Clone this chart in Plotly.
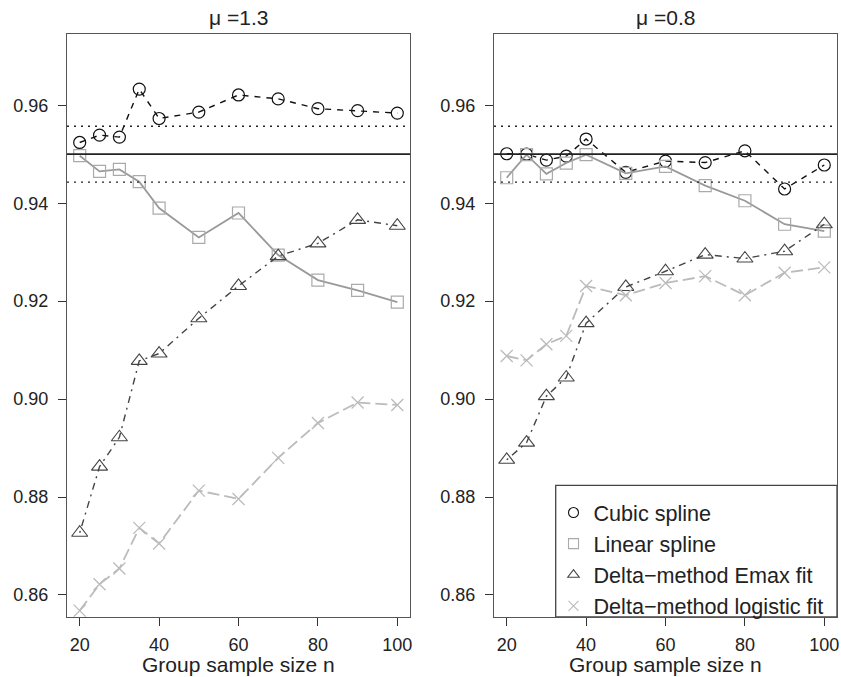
import plotly.graph_objects as go

# ---------------- data ----------------
n = [20, 25, 30, 35, 40, 50, 60, 70, 80, 90, 100]

cubic_13 = [0.9524, 0.9539, 0.9535, 0.9633, 0.9573, 0.9586, 0.9621, 0.9613, 0.9593, 0.9589, 0.9584]
linear_13 = [0.9497, 0.9465, 0.9469, 0.9444, 0.9390, 0.9330, 0.9380, 0.9294, 0.9243, 0.9222, 0.9198]
emax_13 = [0.8727, 0.8862, 0.8922, 0.9078, 0.9093, 0.9165, 0.9231, 0.9292, 0.9318, 0.9366, 0.9354]
logit_13 = [0.8568, 0.8622, 0.8654, 0.8737, 0.8705, 0.8813, 0.8796, 0.8880, 0.8951, 0.8993, 0.8988]

cubic_08 = [0.9501, 0.9500, 0.9488, 0.9496, 0.9531, 0.9463, 0.9486, 0.9483, 0.9507, 0.9429, 0.9478]
linear_08 = [0.9452, 0.9499, 0.9460, 0.9482, 0.9499, 0.9461, 0.9475, 0.9436, 0.9405, 0.9357, 0.9343]
emax_08 = [0.8876, 0.8911, 0.9006, 0.9044, 0.9155, 0.9229, 0.9261, 0.9295, 0.9287, 0.9302, 0.9357]
logit_08 = [0.9088, 0.9079, 0.9112, 0.9129, 0.9231, 0.9212, 0.9237, 0.9251, 0.9212, 0.9258, 0.9269]

nominal = 0.95
ci_lo, ci_hi = 0.9443, 0.9557

panel_titles = ["\u03bc =1.3", "\u03bc =0.8"]
series_names = ["Cubic spline", "Linear spline", "Delta\u2212method Emax fit", "Delta\u2212method logistic fit"]
x_ticks = [20, 40, 60, 80, 100]
y_ticks = [0.86, 0.88, 0.90, 0.92, 0.94, 0.96]
x_label = "Group sample size n"

# ---------------- styles ----------------
W, H = 841, 677
FONT = "Liberation Sans, Arial, Helvetica, sans-serif"
styles = [
    dict(symbol="circle-open", size=12, mcolor="#111111", lcolor="#111111", dash="6px,6px", lw=1.4, mlw=1.2),
    dict(symbol="square-open", size=12, mcolor="#aaaaaa", lcolor="#999999", dash="solid", lw=1.8, mlw=1.2),
    dict(symbol="triangle-up-open", size=14, mcolor="#444444", lcolor="#444444", dash="2px,5px,7px,5px", lw=1.4, mlw=1.1),
    dict(symbol="x-thin-open", size=12, mcolor="#bbbbbb", lcolor="#bbbbbb", dash="12px,5px", lw=1.8, mlw=1.3),
]

fig = go.Figure()

panels = [
    ("x", "y", [cubic_13, linear_13, emax_13, logit_13]),
    ("x2", "y2", [cubic_08, linear_08, emax_08, logit_08]),
]

for xa, ya, series in panels:
    for vals, st, name in zip(series, styles, series_names):
        fig.add_trace(go.Scatter(
            x=n, y=vals, xaxis=xa, yaxis=ya, mode="lines+markers",
            name=name, showlegend=False,
            line=dict(color=st["lcolor"], width=st["lw"], dash=st["dash"]),
            marker=dict(symbol=st["symbol"], size=st["size"], color=st["mcolor"],
                        line=dict(color=st["mcolor"], width=st["mlw"])),
        ))

# legend-only entries (markers only, as in the reference)
for st, name in zip(styles, series_names):
    fig.add_trace(go.Scatter(
        x=[None], y=[None], xaxis="x2", yaxis="y2", mode="markers", name=name,
        marker=dict(symbol=st["symbol"], size=10, color=st["mcolor"],
                    line=dict(color=st["mcolor"], width=1.1)),
    ))

xdom = [[67 / W, 410 / W], [494 / W, 837 / W]]
ydom = [1 - 617 / H, 1 - 34 / H]

axis_common = dict(
    showgrid=False, zeroline=False, showline=True, mirror=True,
    linecolor="#555555", linewidth=1.2, ticks="outside", ticklen=8,
    tickwidth=1, tickcolor="#333333",
    tickfont=dict(family=FONT, size=18, color="#222222"),
    automargin=False,
)

layout = dict(
    width=W, height=H, margin=dict(l=0, r=0, t=0, b=0),
    paper_bgcolor="white", plot_bgcolor="white",
    font=dict(family=FONT, color="#222222"),
    showlegend=True,
    legend=dict(x=553.5 / W, xanchor="left", y=1 - 492 / H, yanchor="top",
                bgcolor="rgba(0,0,0,0)", borderwidth=0,
                font=dict(family=FONT, size=21.6, color="#222222"),
                itemsizing="trace", tracegroupgap=0),
)
for i, (xa, ya) in enumerate([("xaxis", "yaxis"), ("xaxis2", "yaxis2")]):
    layout[xa] = dict(axis_common, domain=xdom[i], range=[16.8, 103.2],
                      tickvals=x_ticks, anchor="y" if i == 0 else "y2",
                      ticklabelstandoff=3)
    layout[ya] = dict(axis_common, domain=ydom, range=[0.8555, 0.97455],
                      tickvals=y_ticks, tickformat=".2f", anchor="x" if i == 0 else "x2",
                      ticklabelstandoff=6)
fig.update_layout(**layout)

shapes = []
annotations = []
for i, (xa, ya) in enumerate([("x", "y"), ("x2", "y2")]):
    for yv, dash, w, c in [(nominal, "solid", 1.8, "#222222"), (ci_lo, "2px,5px", 1.4, "#222222"), (ci_hi, "2px,5px", 1.4, "#222222")]:
        shapes.append(dict(type="line", xref=f"{xa} domain", yref=ya, x0=0, x1=1, y0=yv, y1=yv,
                           line=dict(color=c, width=w, dash=dash), layer="above"))
    cx = (xdom[i][0] + xdom[i][1]) / 2
    annotations.append(dict(text=panel_titles[i], xref="paper", yref="paper", x=cx, y=1 - 18 / H,
                            xanchor="center", yanchor="middle", showarrow=False,
                            font=dict(family=FONT, size=21, color="#222222")))
    annotations.append(dict(text=x_label, xref="paper", yref="paper", x=cx, y=1 - 664 / H,
                            xanchor="center", yanchor="middle", showarrow=False,
                            font=dict(family=FONT, size=21, color="#222222")))

# legend box
shapes.append(dict(type="rect", xref="paper", yref="paper",
                   x0=555.7 / W, x1=837 / W, y0=1 - 617 / H, y1=1 - 485.3 / H,
                   line=dict(color="#444444", width=1.3), fillcolor="white", layer="below"))

fig.update_layout(shapes=shapes, annotations=annotations)
fig.write_html("out.html", config={"displayModeBar": False},
               post_script="document.body.style.margin='0px';document.body.style.overflow='hidden';")
